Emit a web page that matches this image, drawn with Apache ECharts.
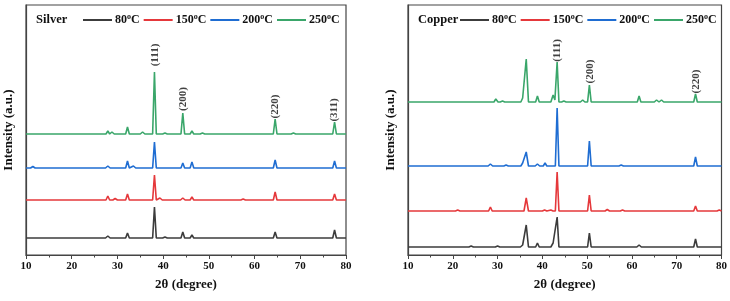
<!DOCTYPE html>
<html>
<head>
<meta charset="utf-8">
<script src="https://cdn.jsdelivr.net/npm/echarts@6/dist/echarts.min.js"></script>
<style>
  html, body { margin: 0; padding: 0; background: #fff; }
  #chart { width: 730px; height: 301px; }
</style>
</head>
<body>
<div id="chart"></div>
<script>
// temperatures (legend names)
var temps = ['80°C', '150°C', '200°C', '250°C'];
var colors = ['#3c3c3c', '#e5383b', '#1f6dd2', '#3aa66a'];

// vertical shift of each pattern (a.u.)
var silverOffsets = [17, 55, 87, 121];
var copperOffsets = [8, 44, 89, 153];

// [2theta, intensity]
var silver80 = [[10,0],[27.4,0],[27.9,2],[28.4,0],[31.8,0],[32.2,5],[32.6,0],[37.7,0],[38.1,31],[38.5,0],
  [39.9,0],[40.4,1],[40.9,0],[43.9,0],[44.3,6],[44.7,0],[45.9,0],[46.3,3],[46.7,0],[64.1,0],[64.5,6],[64.9,0],
  [77.1,0],[77.5,8],[77.9,0],[80,0]];
var silver150 = [[10,0],[27.5,0],[27.9,4],[28.3,0],[29.0,0],[29.5,1.5],[30.0,0],[31.8,0],[32.2,6],[32.6,0],
  [37.7,0],[38.1,25],[38.5,0],[38.8,0],[39.3,2],[39.8,0],[43.8,0],[44.3,2],[44.8,0],[45.9,0],[46.3,3],[46.7,0],
  [57.0,0],[57.5,1],[58.0,0],[64.1,0],[64.5,8],[64.9,0],[77.1,0],[77.5,6],[77.9,0],[80,0]];
var silver200 = [[10,0],[11.0,0],[11.5,1.5],[12.0,0],[27.4,0],[27.9,2],[28.4,0],[31.8,0],[32.2,7],[32.6,0],
  [33.0,0],[33.5,2],[34.0,0],[37.7,0],[38.1,26],[38.5,0],[43.9,0],[44.3,5],[44.7,0],[45.9,0],[46.3,6],[46.7,0],
  [64.1,0],[64.5,8],[64.9,0],[77.1,0],[77.5,7],[77.9,0],[80,0]];
var silver250 = [[10,0],[27.5,0],[27.9,3],[28.3,0],[28.8,2],[29.3,0],[31.8,0],[32.2,7],[32.6,0],
  [35.0,0],[35.5,2],[36.0,0],[37.7,0],[38.1,62],[38.5,0],[39.9,0],[40.4,1],[40.9,0],[43.9,0],[44.3,21],[44.7,0],
  [45.9,0],[46.3,3],[46.7,0],[48.1,0],[48.6,1],[49.1,0],[64.1,0],[64.5,15],[64.9,0],[68.0,0],[68.5,1],[69.0,0],
  [77.1,0],[77.5,12],[77.9,0],[80,0]];

var copper80 = [[10,0],[23.6,0],[24.1,1],[24.6,0],[29.5,0],[30,1],[30.5,0],[35.1,0],[35.6,2],[36.0,1.5],[36.4,22],[36.9,0],
  [38.5,0],[38.9,4],[39.3,0],[41.9,0],[42.4,4],[42.8,2],[43.3,30],[43.7,0],[50.1,0],[50.5,14],[50.9,0],
  [61.1,0],[61.6,2],[62.1,0],[73.8,0],[74.2,8],[74.6,0],[80,0]];
var copper150 = [[10,0],[20.6,0],[21.1,1],[21.6,0],[28.0,0],[28.4,4],[28.8,0],[35.9,0],[36.4,13],[36.9,0],
  [40.0,0],[40.5,1],[41.0,0],[41.4,0],[41.9,1],[42.4,0],[42.9,0],[43.3,39],[43.7,0],[50.1,0],[50.5,16],[50.9,0],
  [54.0,0],[54.5,1.5],[55.0,0],[57.4,0],[57.9,1],[58.4,0],[73.8,0],[74.2,5],[74.6,0],[79.0,0],[79.5,1],[80,0]];
var copper200 = [[10,0],[27.9,0],[28.4,2],[28.9,0],[31.4,0],[31.9,1],[32.4,0],[35.2,0],[35.6,3],[36.0,1.5],[36.4,14],[36.9,0],
  [38.4,0],[38.9,2],[39.4,0],[40.2,0],[40.6,3],[41.0,0],[42.9,0],[43.3,58],[43.7,0],[50.1,0],[50.5,25],[50.9,0],
  [57.1,0],[57.6,1],[58.1,0],[73.8,0],[74.2,9],[74.6,0],[80,0]];
var copper250 = [[10,0],[29.2,0],[29.6,3],[30.1,0],[30.6,0],[31.1,1],[31.6,0],[35.2,0],[35.6,4],[36.0,2.5],[36.4,43],[36.9,0],
  [38.5,0],[38.9,6],[39.3,0],[41.9,0],[42.4,7],[42.8,2],[43.3,40],[43.7,0],[44.3,0],[44.8,1],[45.3,0],
  [48.5,0],[49.0,2],[49.5,0],[50.1,0],[50.5,17],[50.9,0],[61.2,0],[61.6,6],[62.0,0],[65.0,0],[65.5,2],[66.05,0],
  [66.6,2],[67.1,0],[73.8,0],[74.2,8],[74.6,0],[80,0]];

// peak labels: [2theta, height on axis, text]
var silverPeaks = [[38.2, 200, '(111)'], [44.3, 156, '(200)'], [64.5, 148.5, '(220)'], [77.5, 145, '(311)']];
var copperPeaks = [[43.3, 204.5, '(111)'], [50.6, 183.5, '(200)'], [74.3, 173.5, '(220)']];

var serif = '"Liberation Serif", "Times New Roman", serif';

function shift(arr, off) {
    return arr.map(function (p) { return [p[0], p[1] + off]; });
}

function xAxisOf(i) {
    return {
        gridIndex: i, type: 'value', min: 10, max: 80, interval: 10,
        name: '2θ (degree)', nameLocation: 'middle', nameGap: 23,
        nameTextStyle: {fontFamily: serif, fontWeight: 'bold', fontSize: 13, color: '#111'},
        axisLine: {lineStyle: {color: '#444', width: 1.2}},
        axisTick: {inside: false, length: 4, lineStyle: {color: '#444'}},
        minorTick: {show: true, splitNumber: 2, length: 2.5, lineStyle: {color: '#444'}},
        splitLine: {show: false},
        axisLabel: {fontFamily: serif, fontWeight: 'bold', fontSize: 11, color: '#111', margin: 6}
    };
}

function yAxisOf(i) {
    return {
        gridIndex: i, type: 'value', min: 0, max: 250,
        name: 'Intensity (a.u.)', nameLocation: 'middle', nameGap: 11,
        nameTextStyle: {fontFamily: serif, fontWeight: 'bold', fontSize: 13, color: '#111'},
        axisLine: {show: true, lineStyle: {color: '#444', width: 1.2}},
        axisTick: {show: false},
        axisLabel: {show: false},
        splitLine: {show: false}
    };
}

function legendOf(left) {
    return {
        left: left, top: 13, width: 265, padding: 0,
        icon: 'rect', itemWidth: 29, itemHeight: 2, itemGap: 4,
        data: temps,
        formatter: function (name) { return name.replace('°', '{s|o}'); },
        textStyle: {
            fontFamily: serif, fontWeight: 'bold', fontSize: 12, color: '#111', padding: [0, 0, 0, -2],
            rich: {s: {fontFamily: serif, fontWeight: 'bold', fontSize: 8, color: '#111', verticalAlign: 'top', padding: [0, 0, 6, 0]}}
        }
    };
}

var series = [];
var silverData = [silver80, silver150, silver200, silver250];
var copperData = [copper80, copper150, copper200, copper250];
[silverData, copperData].forEach(function (set, g) {
    var offs = g == 0 ? silverOffsets : copperOffsets;
    for (var i = 0; i < set.length; i++) {
        series.push({
            name: temps[i], type: 'line', xAxisIndex: g, yAxisIndex: g,
            data: shift(set[i], offs[i]),
            showSymbol: false, symbol: 'none', color: colors[i],
            lineStyle: {width: 1.6, color: colors[i]},
            z: 2
        });
    }
});
[silverPeaks, copperPeaks].forEach(function (pk, g) {
    series.push({
        type: 'scatter', xAxisIndex: g, yAxisIndex: g, symbolSize: 0,
        data: pk,
        label: {
            show: true, position: 'inside', rotate: 90,
            formatter: function (p) { return p.data[2]; },
            fontFamily: serif, fontWeight: 'bold', fontSize: 11, color: '#111'
        },
        z: 3
    });
});

var chart = echarts.init(document.getElementById('chart'));
chart.setOption({
    animation: false,
    backgroundColor: '#fff',
    title: [
        {text: 'Silver', left: 36, top: 13, padding: 0, textStyle: {fontFamily: serif, fontWeight: 'bold', fontSize: 12.5, color: '#111'}},
        {text: 'Copper', left: 418, top: 13, padding: 0, textStyle: {fontFamily: serif, fontWeight: 'bold', fontSize: 12.5, color: '#111'}}
    ],
    legend: [legendOf(83), legendOf(460)],
    grid: [
        {left: 26, right: 384, top: 5, height: 250, show: true, borderColor: '#444', borderWidth: 1.2},
        {left: 408, right: 7, top: 5, height: 250, show: true, borderColor: '#444', borderWidth: 1.2}
    ],
    xAxis: [xAxisOf(0), xAxisOf(1)],
    yAxis: [yAxisOf(0), yAxisOf(1)],
    series: series
});
</script>
</body>
</html>
